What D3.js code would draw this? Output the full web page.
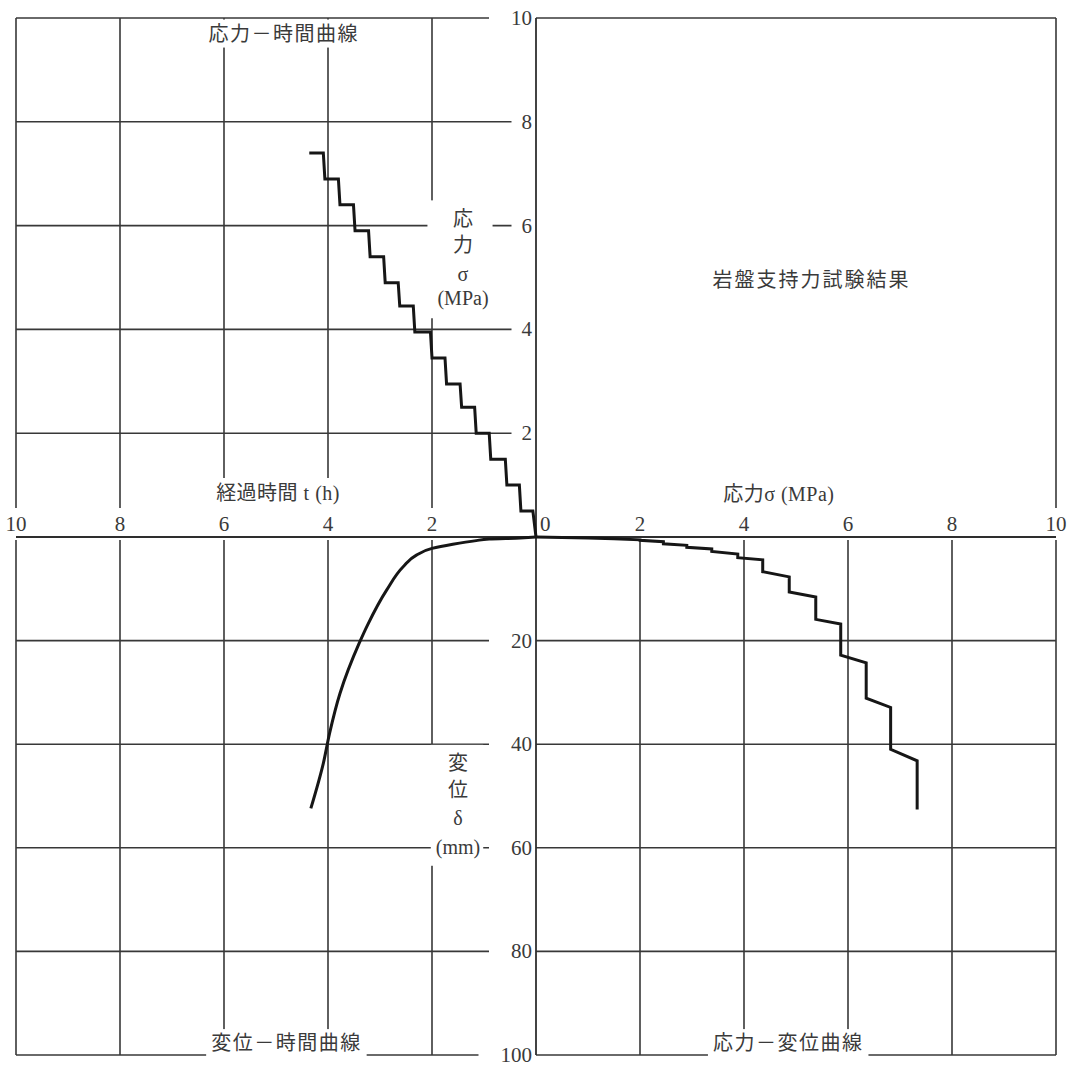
<!DOCTYPE html>
<html>
<head>
<meta charset="utf-8">
<script src="https://cdn.jsdelivr.net/npm/d3@7"></script>
<style>
  html,body{margin:0;padding:0;background:#fff;}
  svg{display:block;}
  text{font-family:'Liberation Serif','Noto Sans CJK JP',serif;fill:#3a3a3a;}
</style>
</head>
<body>
<svg id="chart" width="1073" height="1067"></svg>
<script>
// ---------- DATA ----------
const timeTicks   = [10, 8, 6, 4, 2];          // h (left, leftwards)
const stressTicks = [2, 4, 6, 8, 10];          // MPa
const dispTicks   = [20, 40, 60, 80, 100];     // mm

// Stress-time curve (stepped loading)
const stLevels = [0.5, 1.0, 1.5, 2.0, 2.5, 2.95, 3.45, 3.95, 4.45, 4.9, 5.4, 5.9, 6.4, 6.9, 7.4];
const stStartT = [0.06, 0.32, 0.59, 0.9, 1.18, 1.46, 1.75, 2.03, 2.36, 2.65, 2.93, 3.22, 3.51, 3.8, 4.09];
const stEndT   = [0.29, 0.56, 0.87, 1.15, 1.43, 1.72, 2.0, 2.33, 2.62, 2.9, 3.19, 3.48, 3.77, 4.06, 4.36];

// Displacement-time curve
const dtTime = [0, 0.3, 0.9, 1.15, 1.6, 2.0, 2.3, 2.55, 2.87, 3.24, 3.4, 3.77, 3.97, 4.09, 4.33];
const dtDisp = [0, 0.2, 0.4, 0.7, 1.4, 2.2, 3.5, 5.7, 10.2, 17.0, 20.5, 30.2, 37.9, 43.7, 52.4];

// Stress-displacement curve (creep at each load stage)
const sdStress    = [0.5, 1.0, 1.5, 2.0, 2.45, 2.9, 3.38, 3.88, 4.36, 4.87, 5.38, 5.86, 6.35, 6.82, 7.33];
const sdDispStart = [0.1, 0.2, 0.35, 0.55, 0.9, 1.6, 2.3, 3.3, 4.4, 7.7, 11.6, 16.8, 24.3, 32.9, 43.2];
const sdDispEnd   = [0.1, 0.2, 0.35, 0.65, 1.3, 2.0, 2.8, 4.0, 6.7, 10.6, 15.9, 22.8, 31.1, 41.0, 52.6];

// ---------- LAYOUT ----------
const L = 16, R = 1056, T = 18, B = 1055, CX = 536, CY = 537;
const xT = d3.scaleLinear().domain([0, 10]).range([CX, L]);
const xS = d3.scaleLinear().domain([0, 10]).range([CX, R]);
const yS = d3.scaleLinear().domain([0, 10]).range([CY, T]);
const yD = d3.scaleLinear().domain([0, 100]).range([CY, B]);

const svg = d3.select('#chart');
svg.append('rect').attr('width', 1073).attr('height', 1067).attr('fill', '#fff');
const gGrid = svg.append('g').attr('stroke', '#383838').attr('stroke-width', 1.6);
const gMask = svg.append('g').attr('fill', '#fff');
const gAxis = svg.append('g').attr('stroke', '#2e2e2e').attr('stroke-width', 1.8);
const gCurve = svg.append('g');
const gText = svg.append('g');

function hline(g, y, x1, x2){ g.append('line').attr('x1', x1).attr('x2', x2).attr('y1', y).attr('y2', y); }
function vline(g, x, y1, y2){ g.append('line').attr('x1', x).attr('x2', x).attr('y1', y1).attr('y2', y2); }

// top-left quadrant
timeTicks.forEach(t => vline(gGrid, xT(t), yS(10), CY));
stressTicks.forEach(s => hline(gGrid, yS(s), xT(10), CX));
// top-right quadrant (frame only)
hline(gGrid, yS(10), CX, xS(10));
vline(gGrid, xS(10), yS(10), CY);
// bottom-left
timeTicks.forEach(t => vline(gGrid, xT(t), CY, yD(100)));
dispTicks.forEach(d => hline(gGrid, yD(d), xT(10), CX));
// bottom-right
stressTicks.forEach(s => vline(gGrid, xS(s), CY, yD(100)));
dispTicks.forEach(d => hline(gGrid, yD(d), CX, xS(10)));

// main axes
hline(gAxis, CY, xT(10), xS(10));
vline(gAxis, CX, yS(10), yD(100));

// ---------- TEXT with white knock-out ----------
function mask(node, pl, pr, py){
  const b = node.getBBox();
  gMask.append('rect').attr('x', b.x - pl).attr('y', b.y - py)
    .attr('width', b.width + pl + pr).attr('height', b.height + 2 * py);
}
function label(x, y, txt, opt = {}){
  const t = gText.append('text').attr('x', x).attr('y', y)
    .attr('text-anchor', opt.anchor || 'middle')
    .attr('dominant-baseline', 'central')
    .style('font-size', (opt.size || 21) + 'px')
    .style('letter-spacing', (opt.ls || 0) + 'px')
    .text(txt);
  if (opt.mask) mask(t.node(), opt.mask[0], opt.mask[1], opt.mask[2]);
  return t;
}

// horizontal axis numbers
timeTicks.forEach(t => label(xT(t), CY - 13, String(t), {mask: [4, 4, 4]}));
stressTicks.forEach(s => label(xS(s), CY - 13, String(s), {mask: [4, 4, 4]}));
label(CX + 4, CY - 13, '0', {anchor: 'start', mask: [1, 2, 4]});
// vertical axis numbers
stressTicks.forEach(s => label(CX - 4, yS(s), String(s), {anchor: 'end', mask: [String(s).length > 1 ? 22 : 10, 4, 2]}));
dispTicks.forEach(d => label(CX - 4, yD(d), String(d), {anchor: 'end', mask: [String(d).length > 1 ? 22 : 10, 4, 2]}));

// axis titles
label(xT(4.96), CY - 44, '経過時間 t (h)', {size: 20, ls: 0.5, mask: [6, 6, 4]});
label(xS(4.67), CY - 43, '応力σ (MPa)', {size: 20, ls: 0.5, mask: [6, 6, 4]});

// vertical stack labels
function stack(x, ys, items, pl, pr, py){
  const g = gText.append('g');
  items.forEach((s, i) => {
    g.append('text').attr('x', x).attr('y', ys[i]).attr('text-anchor', 'middle')
      .attr('dominant-baseline', 'central').style('font-size', '20px').text(s);
  });
  mask(g.node(), pl, pr, py);
}
stack(463, [yS(6.12), yS(5.63), yS(5.07), yS(4.6)], ['応', '力', 'σ', '(MPa)'], 10, 4, 8);
stack(458, [yD(43.6), yD(48.8), yD(54.2), yD(59.8)], ['変', '位', 'δ', '(mm)'], 5, 3, 7);

// quadrant titles
label(xT(4.85), yS(9.7), '応力－時間曲線', {size: 20, ls: 1.5, mask: [5, 5, 3]});
label(xS(5.3), yS(4.95), '岩盤支持力試験結果', {size: 20, ls: 2});
label(xT(4.8), yD(97.7), '変位－時間曲線', {size: 20, ls: 1.5, mask: [5, 5, 3]});
label(xS(4.85), yD(97.7), '応力－変位曲線', {size: 20, ls: 1.5, mask: [5, 5, 3]});

// ---------- CURVES ----------
const stPts = [[0, 0]];
stLevels.forEach((s, i) => { stPts.push([stStartT[i], s], [stEndT[i], s]); });
gCurve.append('path')
  .attr('d', d3.line().x(d => xT(d[0])).y(d => yS(d[1]))(stPts))
  .attr('fill', 'none').attr('stroke', '#161616').attr('stroke-width', 3)
  .attr('stroke-linejoin', 'miter');

const dtPts = dtTime.map((t, i) => [t, dtDisp[i]]);
gCurve.append('path')
  .attr('d', d3.line().x(d => xT(d[0])).y(d => yD(d[1])).curve(d3.curveMonotoneY)(dtPts))
  .attr('fill', 'none').attr('stroke', '#161616').attr('stroke-width', 3);

const sdPts = [[0, 0]];
sdStress.forEach((s, i) => { sdPts.push([s, sdDispStart[i]], [s, sdDispEnd[i]]); });
gCurve.append('path')
  .attr('d', d3.line().x(d => xS(d[0])).y(d => yD(d[1]))(sdPts))
  .attr('fill', 'none').attr('stroke', '#161616').attr('stroke-width', 3)
  .attr('stroke-linejoin', 'miter');
</script>
</body>
</html>
